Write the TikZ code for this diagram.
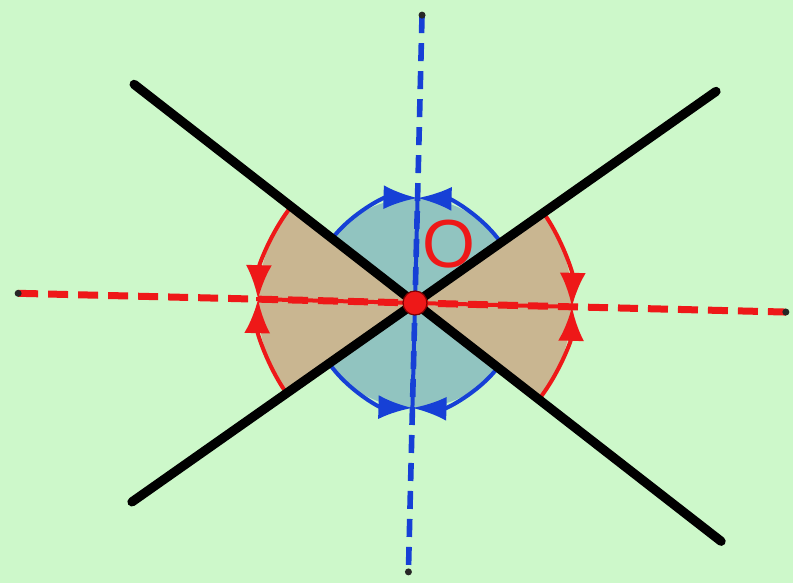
\documentclass[tikz,border=0pt]{standalone}
\usepackage{fontspec}
\setsansfont{Liberation Sans}
\usetikzlibrary{arrows.meta}
\definecolor{bggreen}{RGB}{205,248,202}
\definecolor{sectortan}{RGB}{201,182,145}
\definecolor{sectorteal}{RGB}{145,196,192}
\definecolor{axisred}{RGB}{238,24,24}
\definecolor{axisblue}{RGB}{22,64,214}

\begin{document}
\begin{tikzpicture}[x=0.5pt, y=0.5pt,
    redarc/.style={axisred, line width=2pt, -{Latex[length=17pt, width=13pt]}},
    bluearc/.style={axisblue, line width=2pt, -{Latex[length=17pt, width=12pt]}},
    reddash/.style={axisred, line width=3.5pt, dash pattern=on 10pt off 5pt},
    bluedash/.style={axisblue, line width=2.8pt, dash pattern=on 9pt off 5pt},
    mirrorline/.style={black, line width=4.6pt, line cap=round},
    enddot/.style={fill=black!85, radius=3.5}]
  \fill[bggreen] (-415,-280) rectangle (378,303);
  \useasboundingbox (-415,-280) rectangle (378,303);
  \begin{scope}[rotate=-1.4]
    \coordinate (O) at (0,0);
    \coordinate (redW) at (180:397);
    \coordinate (redE) at (0:371);
    \coordinate (blueN) at (90:288);
    \coordinate (blueS) at (270:269);
    \coordinate (lineNW) at (143.5:356);
    \coordinate (lineSE) at (-36.5:388);
    \coordinate (lineSW) at (216.5:346);
    \coordinate (lineNE) at (36.5:368);

    \foreach \a in {143.5,-36.5}
      \fill[sectortan] (O) -- (\a:157) arc[start angle=\a, end angle=\a+73, radius=157] -- cycle;
    \foreach \a in {36.5,216.5}
      \fill[sectorteal] (O) -- (\a:105) arc[start angle=\a, end angle=\a+107, radius=105] -- cycle;

    \foreach \a/\b in {36.5/90,143.5/90,216.5/270,323.5/270}
      \draw[bluearc] (\a:105) arc[start angle=\a, end angle=\b, radius=105];
    \foreach \a/\b in {143.5/180,216.5/180,36.5/0,-36.5/0}
      \draw[redarc] (\a:157) arc[start angle=\a, end angle=\b, radius=157];

    \draw[axisred, line width=2pt] (180:159) -- (0:161);
    \draw[axisblue, line width=2pt] (270:115) -- (90:120);
    \draw[reddash] (redW) -- (redE);
    \draw[bluedash] (blueN) -- (blueS);
    \foreach \p in {redW,redE,blueN,blueS}
      \fill[enddot] (\p) circle;

    \draw[mirrorline] (lineNW) -- (lineSE);
    \draw[mirrorline] (lineSW) -- (lineNE);

    \node[text=axisred, font=\sffamily\fontsize{34}{40}\selectfont, inner sep=0pt] (lblO) at (32,60) {O};
    \filldraw[fill=axisred, draw=red!50!black, line width=0.6pt] (O) circle[radius=12];
  \end{scope}
\end{tikzpicture}
\end{document}
